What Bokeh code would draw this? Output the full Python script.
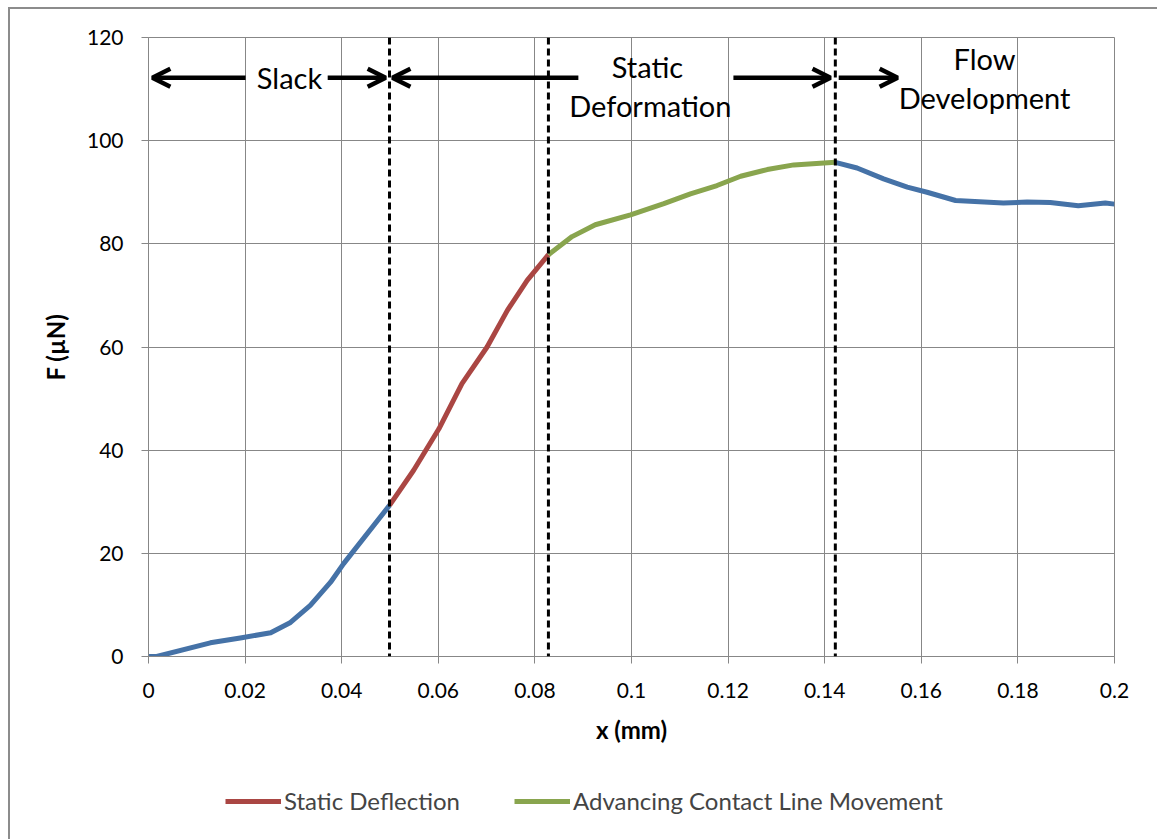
from bokeh.plotting import figure
from bokeh.layouts import column
from bokeh.models import (Span, Arrow, OpenHead, Label, Legend, LegendItem,
                          FixedTicker, Range1d)
from bokeh.embed import file_html
from bokeh.resources import INLINE

# Force-displacement curve, split into its four phases
slack_x = [0.0, 0.0017, 0.0128, 0.019, 0.0253, 0.0294, 0.0335, 0.0377, 0.0404, 0.0499]
slack_f = [0.0, 0.0, 2.65, 3.6, 4.6, 6.6, 9.9, 14.4, 18.0, 29.3]

static_x = [0.0499, 0.0549, 0.0601, 0.0649, 0.0701, 0.0743, 0.0784, 0.0828]
static_f = [29.3, 36.1, 44.1, 52.9, 60.0, 67.1, 72.9, 77.9]

advancing_x = [0.0828, 0.0877, 0.0925, 0.0998, 0.1067, 0.1122, 0.1177, 0.1226, 0.1281, 0.1336, 0.1422]
advancing_f = [77.9, 81.4, 83.7, 85.6, 87.8, 89.7, 91.3, 93.1, 94.4, 95.3, 95.8]

flow_x = [0.1422, 0.1467, 0.1522, 0.1571, 0.1612, 0.1671, 0.177, 0.1819, 0.1867, 0.1925, 0.1981, 0.2]
flow_f = [95.8, 94.7, 92.6, 91.0, 90.0, 88.4, 87.9, 88.1, 88.0, 87.4, 87.9, 87.7]

x_ticks = [0, 0.02, 0.04, 0.06, 0.08, 0.1, 0.12, 0.14, 0.16, 0.18, 0.2]
x_tick_labels = ["0", "0.02", "0.04", "0.06", "0.08", "0.1", "0.12", "0.14", "0.16", "0.18", "0.2"]
y_ticks = [0, 20, 40, 60, 80, 100, 120]
y_tick_labels = ["0", "20", "40", "60", "80", "100", "120"]

BLUE = "#4572A7"
RED = "#AA4643"
GREEN = "#89A54E"
GRID = "#878787"
FONT = "Lato"
LW = 5

p = figure(width=1147, height=775, output_backend="svg", toolbar_location=None,
           x_range=Range1d(0, 0.2), y_range=Range1d(0, 120),
           min_border_left=138, min_border_right=43,
           min_border_top=28, min_border_bottom=128)

p.outline_line_color = GRID
p.outline_line_width = 1
p.background_fill_color = "white"
p.border_fill_color = "white"

for ax in (p.xaxis, p.yaxis):
    ax.axis_line_color = GRID
    ax.major_tick_line_color = GRID
    ax.minor_tick_line_color = None
    ax.major_tick_in = 0
    ax.major_tick_out = 7
    ax.major_label_text_font = FONT
    ax.major_label_text_font_size = "21px"
    ax.major_label_text_color = "black"
    ax.axis_label_text_font = FONT
    ax.axis_label_text_font_size = "24px"
    ax.axis_label_text_font_style = "bold"
    ax.axis_label_text_color = "black"

p.xaxis.ticker = FixedTicker(ticks=x_ticks)
p.xaxis.major_label_overrides = dict(zip(x_ticks, x_tick_labels))
p.yaxis.ticker = FixedTicker(ticks=y_ticks)
p.yaxis.major_label_overrides = dict(zip(y_ticks, y_tick_labels))
p.xaxis.axis_label = "x (mm)"
p.yaxis.axis_label = "F (µN)"
p.xaxis.major_label_standoff = 19
p.yaxis.major_label_standoff = 18
p.xaxis.axis_label_standoff = 14
p.yaxis.axis_label_standoff = 14

p.xgrid.grid_line_color = GRID
p.ygrid.grid_line_color = GRID
p.xgrid.ticker = FixedTicker(ticks=x_ticks)
p.ygrid.ticker = FixedTicker(ticks=y_ticks)

p.line(slack_x, slack_f, line_color=BLUE, line_width=LW, line_join="round")
p.line(flow_x, flow_f, line_color=BLUE, line_width=LW, line_join="round")
p.line(static_x, static_f, line_color=RED, line_width=LW, line_join="round")
p.line(advancing_x, advancing_f, line_color=GREEN, line_width=LW, line_join="round")

# Phase boundaries
for xb in (slack_x[-1], static_x[-1], advancing_x[-1]):
    p.add_layout(Span(location=xb, dimension="height", line_color="black",
                      line_width=3, line_dash="7 4"))

# Phase arrows
arrow_y = 112.2
arrows = [(0.0201, 0.0008), (0.0371, 0.0491), (0.0890, 0.0505),
          (0.1211, 0.1412), (0.1429, 0.1551)]
for xs, xe in arrows:
    p.add_layout(Arrow(x_start=xs, y_start=arrow_y, x_end=xe, y_end=arrow_y,
                       line_color="black", line_width=4.5,
                       end=OpenHead(size=18, line_width=4.5, line_color="black")))

for txt, tx, ty in [("Slack", 0.0292, 112.2),
                    ("Static", 0.1033, 114.4), ("Deformation", 0.1039, 106.9),
                    ("Flow", 0.1731, 115.9), ("Development", 0.1731, 108.4)]:
    p.add_layout(Label(x=tx, y=ty, text=txt, text_align="center",
                       text_baseline="middle", text_font=FONT,
                       text_font_size="29px", text_color="black"))

# Legend strip under the chart; its two series sit outside the strip's ranges,
# so only their legend samples show
lf = figure(width=1147, height=55, output_backend="svg", toolbar_location=None,
            x_range=Range1d(10, 11), y_range=Range1d(1000, 1001),
            min_border_left=138, min_border_right=43,
            min_border_top=0, min_border_bottom=0, outline_line_color=None)
lf.axis.visible = False
lf.grid.visible = False
lf.border_fill_color = "white"
leg_static = lf.line(static_x, static_f, line_color=RED, line_width=LW)
leg_adv = lf.line(advancing_x, advancing_f, line_color=GREEN, line_width=LW)
legend = Legend(items=[LegendItem(label="Static Deflection", renderers=[leg_static]),
                       LegendItem(label="Advancing Contact Line Movement", renderers=[leg_adv])],
                orientation="horizontal", location=(77, 24),
                glyph_width=56, label_standoff=3, spacing=54,
                label_text_font=FONT, label_text_font_size="24px",
                border_line_color=None, background_fill_alpha=0,
                margin=0, padding=0)
lf.add_layout(legend, "center")

layout = column(p, lf, spacing=0)
layout.margin = (7, 0, 0, 8)
layout.styles = {"border-left": "2px solid #8c8c8c", "border-top": "2px solid #8c8c8c"}

open("out.html", "w").write(file_html(layout, INLINE))
